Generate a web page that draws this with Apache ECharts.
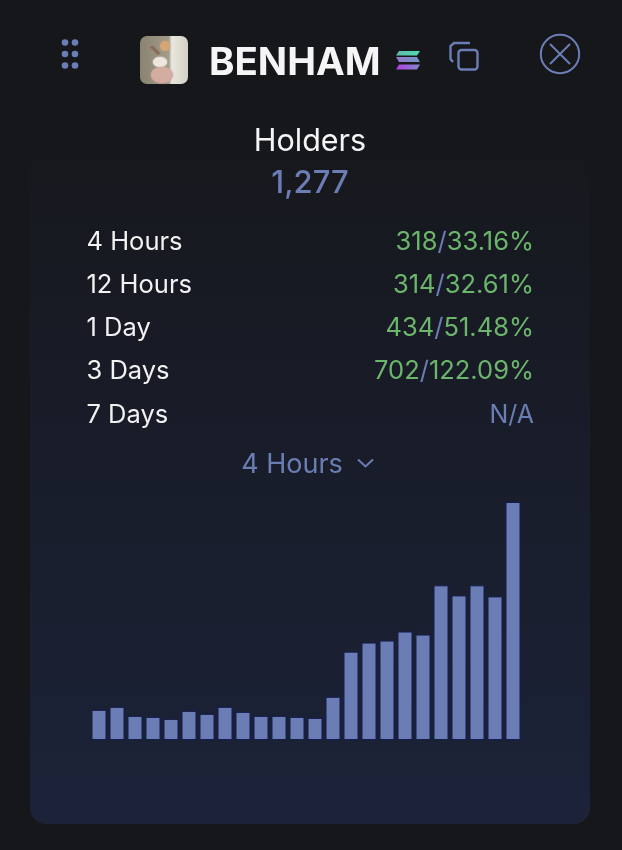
<!DOCTYPE html>
<html>
<head>
<meta charset="utf-8">
<title>Holders</title>
<script src="https://cdn.jsdelivr.net/npm/echarts@6/dist/echarts.min.js"></script>
<style>
html, body { margin: 0; padding: 0; background: #16171b; }
#chart { width: 622px; height: 850px; }
</style>
</head>
<body>
<div id="chart"></div>
<script>
// token header
var tokenName = 'BENHAM';
var metricName = 'Holders';
var metricTotal = '1,277';
var selectedPeriod = '4 Hours';

// table rows
var periods = ['4 Hours', '12 Hours', '1 Day', '3 Days', '7 Days'];
var changeCounts = ['318', '314', '434', '702', null];
var changePercents = ['33.16%', '32.61%', '51.48%', '122.09%', null];

// bars, no axis labels in the picture so the unit is a read-off estimate
var barSlots = ['1', '2', '3', '4', '5', '6', '7', '8', '9', '10', '11', '12', '13', '14', '15', '16', '17', '18', '19', '20', '21', '22', '23', '24'];
var barValues = [30, 33, 24, 23, 21, 29, 26, 33, 28, 24, 24, 23, 22, 43, 88, 97, 99, 108, 105, 154, 144, 154, 143, 237];

var BLUE = '#6b7db5';
var GREEN = '#6cb56c';
var FONT = 'Inter, "Noto Sans", sans-serif';

function textEl(str, x, y, size, color, align, weight) {
    return {
        type: 'text',
        x: x,
        y: y,
        z: 10,
        style: {
            text: str,
            fill: color,
            font: (weight || 400) + ' ' + size + 'px ' + FONT,
            align: align || 'left',
            verticalAlign: 'middle'
        }
    };
}

function rowEls() {
    var els = [];
    periods.forEach(function (p, i) {
        var y = [242, 285, 328, 371, 415][i];
        els.push(textEl(p, 86.5, y, 25.5, '#f2f2f2'));
        if (changeCounts[i] === null) {
            els.push(textEl('N/A', 534, y, 25, BLUE, 'right'));
        } else {
            els.push({
                type: 'text',
                x: 534,
                y: y,
                z: 10,
                style: {
                    text: '{g|' + changeCounts[i] + '}{s|/}{g|' + changePercents[i] + '}',
                    align: 'right',
                    verticalAlign: 'middle',
                    font: '400 25.5px ' + FONT,
                    rich: {
                        g: { fill: GREEN, font: '400 25.5px ' + FONT },
                        s: { fill: BLUE, font: '400 25.5px ' + FONT }
                    }
                }
            });
        }
    });
    return els;
}

function band(points, from, to) {
    return {
        type: 'polygon',
        shape: { points: points },
        style: { fill: { type: 'linear', x: 0, y: 0, x2: 1, y2: 0, colorStops: [{ offset: 0, color: from }, { offset: 1, color: to }] } }
    };
}

function soft(type, shape, color, blur) {
    return { type: type, shape: shape, style: { fill: color, shadowBlur: blur, shadowColor: color } };
}

function headerIcons() {
    var stroke = { stroke: BLUE, fill: 'none', lineWidth: 2.4 };
    var els = [];
    // drag handle
    [[65, 42.5], [75, 42.5], [65, 54], [75, 54], [65, 65.5], [75, 65.5]].forEach(function (c) {
        els.push({ type: 'circle', z: 10, shape: { cx: c[0], cy: c[1], r: 3.3 }, style: { fill: BLUE } });
    });
    // avatar, a rough stand-in for the hamster photo
    els.push({
        type: 'group',
        z: 10,
        children: [
            { type: 'rect', shape: { x: 140, y: 36, width: 48, height: 48, r: 7 }, style: { fill: { type: 'linear', x: 0, y: 0, x2: 1, y2: 0, colorStops: [{ offset: 0, color: '#8a8371' }, { offset: 0.6, color: '#a39a88' }, { offset: 0.66, color: '#e8e6e0' }, { offset: 1, color: '#d4d0c6' }] } } },
            soft('polygon', { points: [[150, 47], [153, 46], [160, 53], [158, 55]] }, '#8a6a58', 1),
            soft('circle', { cx: 165, cy: 46, r: 5 }, '#d2a676', 2),
            soft('ellipse', { cx: 160, cy: 62, rx: 7, ry: 5 }, '#ece6de', 2),
            soft('ellipse', { cx: 162, cy: 75, rx: 11, ry: 8 }, '#d3aca2', 2)
        ]
    });
    // solana mark
    els.push({ type: 'group', z: 10, children: [
        band([[399, 51], [420, 51], [417, 55.5], [396, 55.5]], '#5fb8b0', '#52dcae'),
        band([[396, 57], [417, 57], [420, 62], [399, 62]], '#9678cc', '#6e98c4'),
        band([[399, 64.5], [420, 64.5], [417, 69.5], [396, 69.5]], '#b23fe6', '#7e88c8')
    ] });
    // copy icon
    els.push({ type: 'rect', z: 10, shape: { x: 458.5, y: 50, width: 19, height: 19.5, r: 3 }, style: stroke });
    els.push({ type: 'polyline', z: 10, shape: { points: [[470, 43], [454, 43], [450.5, 46], [450.5, 59], [453, 62]] }, style: stroke });
    // close icon
    els.push({ type: 'circle', z: 10, shape: { cx: 560, cy: 54, r: 19.2 }, style: { stroke: BLUE, fill: 'none', lineWidth: 2 } });
    els.push({ type: 'line', z: 10, shape: { x1: 550, y1: 44, x2: 570, y2: 64 }, style: { stroke: BLUE, lineWidth: 2 } });
    els.push({ type: 'line', z: 10, shape: { x1: 570, y1: 44, x2: 550, y2: 64 }, style: { stroke: BLUE, lineWidth: 2 } });
    // dropdown chevron
    els.push({ type: 'polyline', z: 10, shape: { points: [[358, 459.5], [365.5, 466.5], [373, 459.5]] }, style: { stroke: BLUE, fill: 'none', lineWidth: 2 } });
    return els;
}

var chart = echarts.init(document.getElementById('chart'), null, { renderer: 'canvas' });
chart.setOption({
    backgroundColor: '#16171b',
    animation: false,
    graphic: [
        {
            type: 'rect',
            z: 0,
            shape: { x: 30, y: 20, width: 560, height: 804, r: 16 },
            style: {
                fill: {
                    type: 'linear', x: 0, y: 0, x2: 0, y2: 1,
                    colorStops: [{ offset: 0, color: '#16171b' }, { offset: 0.1, color: '#16171b' }, { offset: 1, color: '#1c2339' }]
                }
            }
        },
        textEl(tokenName, 209, 63, 38.5, '#f5f5f5', 'left', 700),
        textEl(metricName, 310, 142, 30.5, '#f5f5f5', 'center'),
        textEl(metricTotal, 310, 184, 31, BLUE, 'center', 500),
        textEl(selectedPeriod, 292, 465, 27, BLUE, 'center')
    ].concat(rowEls(), headerIcons()),
    grid: { left: 90, right: 100, top: 502, bottom: 110 },
    xAxis: {
        type: 'category',
        data: barSlots,
        show: false
    },
    yAxis: {
        type: 'value',
        min: 0,
        max: 237,
        show: false
    },
    series: [{
        type: 'bar',
        data: barValues,
        barWidth: 15,
        itemStyle: { color: BLUE, borderColor: '#151d4c', borderWidth: 1 }
    }]
});
</script>
</body>
</html>
